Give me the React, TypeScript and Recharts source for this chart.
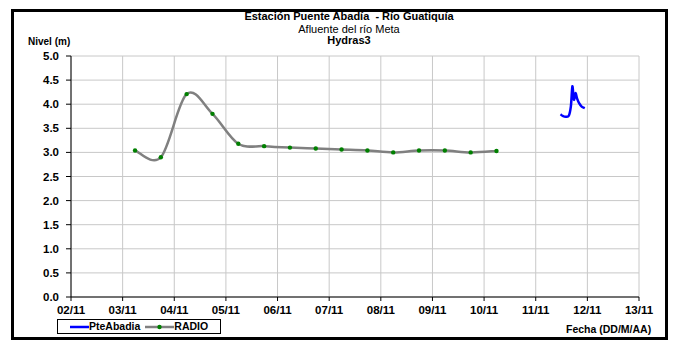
import React from 'react';
import { LineChart, Line, XAxis, YAxis, CartesianGrid, Legend } from 'recharts';

// Days elapsed since 02/11
const xTickValues = [0, 1, 2, 3, 4, 5, 6, 7, 8, 9, 10, 11];
const xTickLabels = ['02/11', '03/11', '04/11', '05/11', '06/11', '07/11', '08/11', '09/11', '10/11', '11/11', '12/11', '13/11'];
const yTickValues = [0, 0.5, 1, 1.5, 2, 2.5, 3, 3.5, 4, 4.5, 5];

const radioTimes = [1.24, 1.74, 2.24, 2.74, 3.24, 3.74, 4.24, 4.74, 5.24, 5.74, 6.24, 6.74, 7.24, 7.74, 8.24];
const radioLevels = [3.04, 2.9, 4.21, 3.8, 3.18, 3.13, 3.1, 3.08, 3.06, 3.04, 3.0, 3.04, 3.04, 3.0, 3.03];

const pteTimes = [9.48, 9.52, 9.58, 9.64, 9.68, 9.7, 9.71, 9.72, 9.74, 9.77, 9.8, 9.84, 9.89, 9.95];
const pteLevels = [3.79, 3.76, 3.74, 3.76, 3.95, 4.25, 4.37, 4.3, 4.09, 4.23, 4.12, 4.02, 3.95, 3.92];

const radioData = radioTimes.map((t, i) => ({ t, v: radioLevels[i] }));
const pteData = pteTimes.map((t, i) => ({ t, v: pteLevels[i] }));

const FONT = '"Liberation Sans", Arial, sans-serif';

// Excel-like smoothed line (Catmull-Rom through points)
const smoothCurve = (context: any) => {
  let pts: number[][] = [];
  return {
    areaStart() {},
    areaEnd() {},
    lineStart() {
      pts = [];
    },
    point(x: number, y: number) {
      pts.push([+x, +y]);
    },
    lineEnd() {
      if (!pts.length) return;
      context.moveTo(pts[0][0], pts[0][1]);
      for (let i = 0; i < pts.length - 1; i++) {
        const p0 = pts[i - 1] || pts[i];
        const p1 = pts[i];
        const p2 = pts[i + 1];
        const p3 = pts[i + 2] || p2;
        context.bezierCurveTo(
          p1[0] + (p2[0] - p0[0]) / 6,
          p1[1] + (p2[1] - p0[1]) / 6,
          p2[0] - (p3[0] - p1[0]) / 6,
          p2[1] - (p3[1] - p1[1]) / 6,
          p2[0],
          p2[1]
        );
      }
    },
  };
};

const LegendBox = () => (
  <div
    style={{
      width: 164,
      height: 15,
      border: '1px solid #000',
      background: '#fff',
      display: 'flex',
      alignItems: 'center',
      fontFamily: FONT,
      fontWeight: 'bold',
      fontSize: 10.5,
      color: '#000',
      boxSizing: 'border-box',
      lineHeight: 1,
    }}
  >
    <svg width={19} height={12} style={{ marginLeft: 12 }}>
      <line x1={0} y1={6} x2={19} y2={6} stroke="#0000ff" strokeWidth={2.5} />
    </svg>
    <span>PteAbadia</span>
    <svg width={29} height={12} style={{ marginLeft: 5 }}>
      <line x1={0} y1={6} x2={29} y2={6} stroke="#808080" strokeWidth={2.5} />
      <circle cx={14.5} cy={6} r={2.2} fill="#008000" />
    </svg>
    <span>RADIO</span>
  </div>
);

const textBase: React.CSSProperties = {
  position: 'absolute',
  fontFamily: FONT,
  color: '#000',
  whiteSpace: 'nowrap',
  lineHeight: 1,
};

export default function App() {
  return (
    <div style={{ position: 'absolute', left: 0, top: 0, width: 673, height: 344, background: '#fff' }}>
      <div
        style={{
          position: 'absolute',
          left: 11,
          top: 9,
          width: 657,
          height: 331,
          border: '3px solid #000',
          boxSizing: 'border-box',
        }}
      />
      <LineChart
        width={673}
        height={344}
        margin={{ top: 56, right: 34, bottom: 17, left: 21 }}
        style={{ position: 'absolute', left: 0, top: 0 }}
      >
        <CartesianGrid stroke="#c8c8c8" strokeWidth={1} />
        <XAxis
          dataKey="t"
          type="number"
          domain={[0, 11]}
          ticks={xTickValues}
          interval={0}
          allowDataOverflow
          height={30}
          tickSize={4}
          tickMargin={5}
          tickFormatter={(v: number) => xTickLabels[Math.round(v)]}
          axisLine={{ stroke: '#000', strokeWidth: 1 }}
          tickLine={{ stroke: '#000' }}
          tick={{ fill: '#000', fontSize: 11.5, fontWeight: 'bold', fontFamily: FONT }}
        />
        <YAxis
          type="number"
          domain={[0, 5]}
          ticks={yTickValues}
          interval={0}
          width={50}
          tickSize={5}
          tickMargin={7}
          tickFormatter={(v: number) => v.toFixed(1)}
          axisLine={{ stroke: '#000', strokeWidth: 1 }}
          tickLine={{ stroke: '#000' }}
          tick={{ fill: '#000', fontSize: 11.5, fontWeight: 'bold', fontFamily: FONT }}
        />
        <Line
          data={pteData}
          dataKey="v"
          name="PteAbadia"
          type={smoothCurve as any}
          stroke="#0000ff"
          strokeWidth={2.5}
          dot={false}
          isAnimationActive={false}
        />
        <Line
          data={radioData}
          dataKey="v"
          name="RADIO"
          type={smoothCurve as any}
          stroke="#808080"
          strokeWidth={2.5}
          dot={{ r: 2.2, fill: '#008000', stroke: 'none' }}
          activeDot={false}
          isAnimationActive={false}
        />
        <Legend
          layout="horizontal"
          verticalAlign="middle"
          align="center"
          content={() => <LegendBox />}
          wrapperStyle={{ position: 'absolute', left: 57, top: 319, width: 164, height: 15 }}
        />
      </LineChart>
      <div style={{ ...textBase, left: 0, width: 698, top: 11, textAlign: 'center', fontWeight: 'bold', fontSize: 11 }}>
        Estación Puente Abadía&nbsp; - Río Guatiquía
      </div>
      <div style={{ ...textBase, left: 0, width: 698, top: 24, textAlign: 'center', fontSize: 11 }}>
        Afluente del río Meta
      </div>
      <div style={{ ...textBase, left: 0, width: 698, top: 35, textAlign: 'center', fontWeight: 'bold', fontSize: 11 }}>
        Hydras3
      </div>
      <div style={{ ...textBase, left: 28, top: 37, fontWeight: 'bold', fontSize: 10 }}>Nivel (m)</div>
      <div style={{ ...textBase, left: 566, top: 324, fontWeight: 'bold', fontSize: 10.5 }}>Fecha (DD/M/AA)</div>
    </div>
  );
}
